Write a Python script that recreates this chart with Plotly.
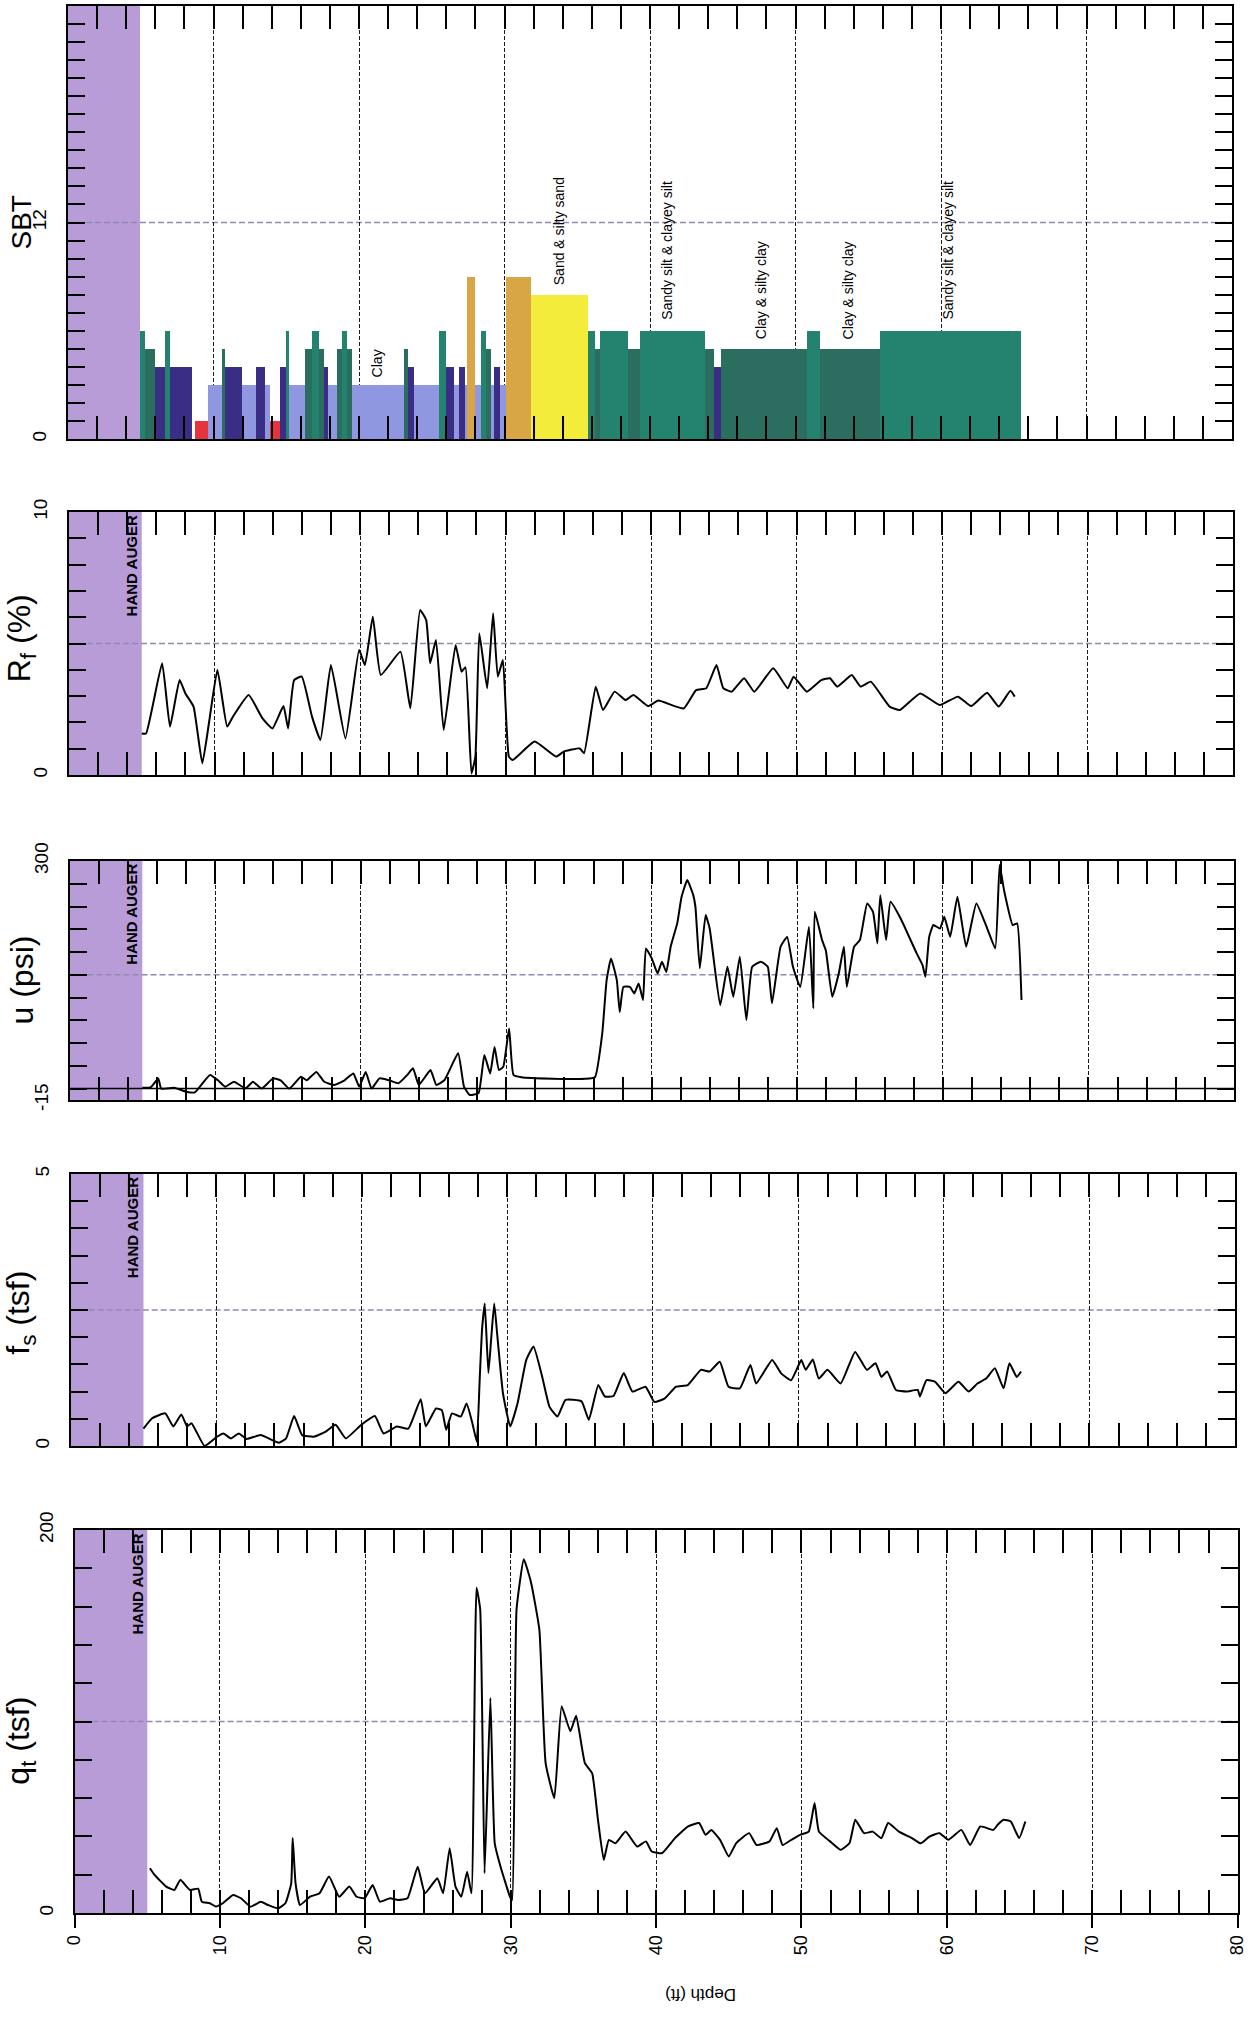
import plotly.graph_objects as go

# ---------------- DATA ----------------
# Soil behaviour type (SBT) intervals: depth from, depth to (ft), zone number
sbt_from = [4.95, 5.3, 6.0, 6.7, 7.0, 8.7, 9.65, 10.55, 10.8, 11.95, 12.9, 13.55, 13.9, 14.6, 14.95,
            15.2, 16.3, 16.8, 17.25, 17.6, 17.85, 18.5, 18.85, 19.2, 19.55, 23.1, 23.4, 23.8, 25.5,
            26.0, 26.5, 26.9, 27.3, 27.4, 28.0, 28.4, 28.7, 29.1, 29.3, 29.7, 30.1, 31.8, 35.75,
            36.2, 36.55, 38.5, 39.3, 43.8, 44.4, 44.9, 50.8, 51.7, 55.8]
sbt_to = [5.3, 6.0, 6.7, 7.0, 8.5, 9.65, 10.55, 10.8, 11.95, 12.9, 13.55, 13.9, 14.6, 14.95, 15.2,
          16.3, 16.8, 17.25, 17.6, 17.85, 18.5, 18.85, 19.2, 19.55, 23.1, 23.4, 23.8, 25.5, 26.0,
          26.5, 26.9, 27.3, 27.4, 28.0, 28.4, 28.7, 29.1, 29.3, 29.7, 30.1, 31.8, 35.75, 36.2,
          36.55, 38.5, 39.3, 43.8, 44.4, 44.9, 50.8, 51.7, 55.8, 65.5]
sbt_zone = [6, 5, 4, 6, 4, 1, 3, 5, 4, 3, 4, 3, 1, 4, 6,
            3, 5, 6, 5, 4, 3, 5, 6, 5, 3, 5, 4, 3, 6,
            4, 3, 4, 3, 9, 3, 6, 5, 3, 4, 3, 9, 8, 6,
            5, 6, 5, 6, 5, 4, 5, 6, 5, 6]

sbt_label_text = ["Clay", "Sand & silty sand", "Sandy silt & clayey silt", "Clay & silty clay",
                  "Clay & silty clay", "Sandy silt & clayey silt"]
sbt_label_depth = [21.3, 33.8, 41.2, 47.6, 53.6, 60.5]
sbt_label_base = [3.3, 8.4, 6.5, 5.4, 5.4, 6.5]

# Friction ratio Rf (%)
rf_depth = [5.0, 5.3, 6.4, 6.94, 7.6, 8.0, 8.56, 9.16, 9.65, 10.2,
            10.87, 11.27, 12.35, 13.3, 13.98, 14.74, 15.06, 15.47, 16.0, 16.7,
            17.28, 18.0, 19.0, 19.94, 20.34, 20.88, 21.43, 22.78, 23.46, 24.13,
            24.55, 24.82, 25.22, 25.75, 26.57, 26.98, 27.25, 27.66, 27.93, 28.2,
            28.74, 29.15, 29.47, 29.82, 30.23, 30.5, 32.0, 33.48, 34.0, 35.1,
            35.4, 36.2, 36.7, 37.5, 38.24, 38.8, 39.8, 40.5, 42.25, 43.1,
            43.8, 44.5, 44.97, 45.55, 46.4, 47.1, 48.4, 49.4, 49.8, 50.7,
            51.7, 52.3, 52.8, 53.8, 54.4, 55.1, 56.4, 57.1, 58.5, 59.85,
            61.1, 62.0, 63.1, 63.9, 64.7, 65.0]
rf_vals = [1.58, 1.58, 4.25, 1.84, 3.61, 3.1, 2.6, 0.44, 2.09, 4.0,
           1.84, 2.22, 3.04, 2.15, 1.77, 2.62, 1.77, 3.61, 3.74, 2.22,
           1.33, 4.18, 1.39, 4.75, 4.18, 6.02, 3.8, 4.69, 2.54, 6.27,
           5.89, 4.25, 5.13, 1.71, 4.94, 3.93, 4.1, 0.06, 0.7, 5.39,
           3.3, 6.15, 3.74, 4.37, 0.7, 0.57, 1.27, 0.7, 0.89, 1.01,
           0.83, 3.36, 2.47, 3.17, 2.85, 3.04, 2.62, 2.83, 2.53, 3.23,
           3.3, 4.18, 3.3, 3.17, 3.68, 3.17, 4.06, 3.3, 3.74, 3.17,
           3.61, 3.68, 3.36, 3.8, 3.36, 3.55, 2.6, 2.47, 3.1, 2.66,
           2.98, 2.62, 3.13, 2.6, 3.2, 2.98]

# Pore pressure u (psi)
u_depth = [5.0, 5.6, 6.1, 6.3, 7.2, 8.0, 8.6, 9.65, 10.2, 10.7,
           11.3, 12.1, 12.6, 13.2, 13.98, 14.5, 15.1, 15.9, 16.3, 16.96,
           17.5, 18.2, 18.9, 19.5, 19.9, 20.35, 20.75, 21.3, 21.95, 22.6,
           23.2, 23.6, 24.0, 24.8, 25.2, 25.75, 26.7, 27.1, 27.5, 28.1,
           28.5, 28.9, 29.2, 29.5, 29.8, 30.2, 30.5, 31.05, 33.2, 35.4,
           36.1, 36.6, 36.9, 37.2, 37.6, 37.8, 38.05, 38.5, 38.8, 39.1,
           39.4, 39.6, 40.0, 40.4, 40.7, 41.0, 41.3, 41.75, 42.05, 42.44,
           42.85, 43.0, 43.3, 43.7, 43.98, 44.7, 45.2, 45.6, 46.05, 46.5,
           46.9, 47.5, 47.97, 48.26, 48.85, 49.3, 49.7, 50.2, 50.8, 51.1,
           51.2, 51.7, 51.96, 52.4, 52.85, 53.2, 53.4, 53.9, 54.3, 54.8,
           55.2, 55.5, 55.7, 56.1, 56.4, 57.1, 58.2, 58.6, 58.8, 59.06,
           59.35, 59.8, 60.1, 60.5, 61.0, 61.6, 62.3, 63.05, 63.6, 63.9,
           64.2, 64.8, 65.1, 65.4]
u_vals = [1, 2, 13.5, 0, 1, -4, -5, 18, 11, 2.6,
          9, 0.4, 9, 0, 13.5, 11, 0, 15.7, 11, 22,
          9, 4.8, 11, 20, 2.6, 22, 0, 13.5, 11, 7,
          18, 26.7, 4.8, 24.5, 4.8, 11, 46.5, 2.6, -8.4, -6,
          44.3, 20, 55, 24.5, 28.9, 79.4, 18, 14.9, 13, 13,
          15, 72.8, 143, 171.6, 143, 101, 134, 134, 125.5, 138.7,
          116.8, 184.8, 171.6, 151.9, 167.3, 153.8, 187, 217.8, 252.9, 274.9,
          255, 239.7, 158.5, 228.7, 211, 110, 160.6, 121, 173.8, 90.4,
          160.6, 167.3, 160.6, 112.4, 187, 200, 160.6, 134, 213.4, 105.8,
          233, 195.8, 182, 121, 152, 187, 134, 187, 195.8, 244.1,
          233, 191.4, 255, 195.8, 246.3, 224.3, 178.2, 162.9, 147.5, 200,
          215.6, 211, 226.5, 200, 252.9, 187, 244.1, 211, 184.8, 294.6,
          261.7, 215.6, 217.8, 116.8]

# Sleeve friction fs (tsf)
fs_depth = [5.0, 5.6, 6.5, 7.05, 7.6, 8.0, 8.3, 9.2, 10.05, 10.5,
            11.0, 11.55, 12.1, 13.05, 14.3, 14.8, 15.35, 15.9, 16.7, 17.5,
            18.2, 18.9, 19.97, 20.9, 21.5, 22.4, 23.2, 24.05, 24.4, 25.1,
            25.5, 25.8, 26.2, 26.8, 27.2, 27.6, 27.9, 28.1, 28.26, 28.45,
            28.7, 28.9, 29.1, 29.3, 29.7, 30.2, 30.7, 31.3, 31.8, 32.4,
            32.9, 33.45, 34.0, 35.1, 35.6, 36.25, 36.7, 37.3, 38.0, 38.6,
            39.5, 40.1, 40.8, 41.6, 42.4, 43.3, 43.9, 44.6, 45.2, 45.98,
            46.7, 47.1, 48.2, 48.8, 49.5, 50.2, 50.5, 50.99, 51.4, 52.0,
            52.9, 53.9, 54.7, 55.3, 55.7, 56.1, 56.7, 57.4, 58.2, 58.35,
            58.8, 59.4, 60.1, 61.0, 61.7, 62.3, 62.9, 63.5, 64.1, 64.5,
            65.0, 65.3]
fs_vals = [0.32, 0.51, 0.6, 0.36, 0.58, 0.36, 0.42, 0.0, 0.17, 0.23,
           0.14, 0.23, 0.13, 0.2, 0.06, 0.14, 0.55, 0.2, 0.17, 0.26,
           0.39, 0.14, 0.39, 0.55, 0.23, 0.36, 0.32, 0.86, 0.36, 0.69,
           0.66, 0.3, 0.6, 0.54, 0.78, 0.42, 0.08, 1.21, 2.13, 2.62,
           1.34, 2.0, 2.62, 2.07, 0.97, 0.36, 0.78, 1.58, 1.83, 1.27,
           0.72, 0.54, 0.85, 0.82, 0.48, 1.12, 0.91, 0.92, 1.34, 1.0,
           1.09, 0.81, 0.87, 1.09, 1.12, 1.4, 1.37, 1.55, 1.09, 1.06,
           1.49, 1.15, 1.58, 1.34, 1.21, 1.58, 1.4, 1.59, 1.24, 1.4,
           1.15, 1.73, 1.4, 1.52, 1.27, 1.37, 1.03, 1.0, 1.03, 0.91,
           1.21, 1.18, 0.97, 1.18, 1.0, 1.15, 1.24, 1.43, 1.06, 1.52,
           1.27, 1.37]

# Corrected tip resistance qt (tsf)
qt_depth = [5.18, 5.5, 6.3, 6.86, 7.27, 7.94, 8.5, 8.75, 9.3, 9.7,
            10.2, 10.9, 11.45, 12.1, 12.8, 13.3, 14.0, 14.5, 14.9, 15.0,
            15.2, 15.5, 16.2, 16.85, 17.5, 18.2, 18.9, 19.4, 19.95, 20.5,
            21.0, 21.7, 22.25, 22.9, 23.6, 24.1, 24.95, 25.35, 25.8, 26.2,
            26.6, 27.0, 27.3, 27.65, 27.9, 28.2, 28.6, 28.9, 29.3, 29.95,
            30.1, 30.4, 30.9, 31.4, 31.97, 32.4, 33.0, 33.5, 34.1, 34.5,
            35.1, 35.6, 36.0, 36.4, 36.75, 37.2, 37.9, 38.7, 39.3, 39.7,
            40.4, 41.3, 42.2, 42.96, 43.4, 43.8, 44.4, 45.0, 45.5, 46.4,
            46.9, 47.8, 48.3, 48.7, 49.3, 49.9, 50.5, 50.9, 51.2, 51.97,
            52.7, 53.3, 53.7, 54.3, 54.9, 55.5, 55.96, 56.7, 57.6, 58.2,
            58.8, 59.5, 60.1, 61.0, 61.6, 62.3, 63.2, 63.5, 63.9, 64.4,
            64.97, 65.4]
qt_vals = [23.4, 19.9, 13.8, 12, 17.3, 12, 12.7, 5.9, 5.1, 3.4,
           5.1, 9.4, 7.7, 3.3, 5.9, 4.2, 2.4, 5.1, 15.5, 39.1,
           15.5, 4.2, 8.5, 10.3, 19, 8.5, 13.8, 8.5, 7.7, 14.6,
           5.9, 7.7, 6.8, 7.7, 24.2, 10.3, 18.1, 10.3, 33.8, 13.8,
           8.5, 21.6, 10.3, 169.8, 158.5, 20.7, 112.3, 36.4, 24.2, 8.5,
           6.8, 158.5, 184.7, 172.5, 148, 78.3, 60, 108, 94.9, 103,
           78.3, 73, 48.7, 27.7, 38.2, 36.4, 42.5, 34.7, 37.4, 32.1,
           31.2, 39.1, 45.2, 47, 40.8, 43.4, 38.2, 29.5, 36.4, 41.7,
           35.5, 37.4, 44.3, 35.5, 38.2, 40.8, 42.5, 57.4, 42.5, 37.4,
           33, 36.4, 48.7, 41.7, 42.5, 39.1, 47, 42.5, 39.1, 36.4,
           39.9, 41.7, 38.2, 43.4, 35.5, 45.2, 43.4, 46.1, 48.7, 47.8,
           39.1, 47.8]

depth_ticks = [0, 10, 20, 30, 40, 50, 60, 70, 80]
hand_auger_depth = 5.0

# ---------------- STYLE ----------------
W, H = 1255, 2019
FONT = "Liberation Sans, Arial, sans-serif"
zone_colors = {1: "#e6343c", 3: "#8e97df", 4: "#3a2d86", 5: "#2b6d5f",
               6: "#23836f", 8: "#f3ec3a", 9: "#d9a646"}
AUGER = "#b89cd8"
MID = "#9586b5"

# panel geometry in pixels: top, bottom, left, right
geom = [(6, 439, 68, 1232),
        (512, 775, 69, 1233),
        (861, 1100, 69.5, 1234),
        (1174, 1446, 70.7, 1235),
        (1530, 1913, 74.6, 1237.6)]

panels = [
    dict(title="SBT", rng=[0, 24], tv=[0, 12], tt=["0", "12"], minor=1, mtick0=0, mid=12, tpos=0.5, tsize=28),
    dict(title="R<sub>f</sub> (%)", rng=[0, 10], tv=[0, 10], tt=["0", "10"], minor=1, mtick0=0, mid=5, tpos=0.52, tsize=32),
    dict(title="u (psi)", rng=[-15, 300], tv=[-15, 300], tt=["-15", "300"], minor=30, mtick0=0, mid=150, tpos=0.5, tsize=32),
    dict(title="f<sub>s</sub> (tsf)", rng=[0, 5], tv=[0, 5], tt=["0", "5"], minor=0.5, mtick0=0, mid=2.5, tpos=0.49, tsize=32),
    dict(title="q<sub>t</sub> (tsf)", rng=[0, 200], tv=[0, 200], tt=["0", "200"], minor=20, mtick0=0, mid=100, tpos=0.45, tsize=32),
]

fig = go.Figure()

# SBT bars
centers = [(a + b) / 2 for a, b in zip(sbt_from, sbt_to)]
widths = [b - a for a, b in zip(sbt_from, sbt_to)]
fig.add_trace(go.Bar(x=centers, y=sbt_zone, width=widths,
                     marker=dict(color=[zone_colors[z] for z in sbt_zone], line=dict(width=0)),
                     xaxis="x", yaxis="y", showlegend=False, hoverinfo="skip"))

series = [(rf_depth, rf_vals), (u_depth, u_vals), (fs_depth, fs_vals), (qt_depth, qt_vals)]
for i, (dx, dy) in enumerate(series, start=2):
    fig.add_trace(go.Scatter(x=dx, y=dy, mode="lines",
                             line=dict(color="black", width=2, shape="spline", smoothing=0.4),
                             xaxis=f"x{i}", yaxis=f"y{i}", showlegend=False, hoverinfo="skip"))

# helper invisible trace for depth-label axis
fig.add_trace(go.Scatter(x=qt_depth, y=qt_vals, mode="lines", opacity=0, line=dict(width=0),
                         xaxis="x6", yaxis="y5", showlegend=False, hoverinfo="skip"))

layout = dict(width=W, height=H, margin=dict(l=0, r=0, t=0, b=0), autosize=False,
              paper_bgcolor="white", plot_bgcolor="white", showlegend=False, bargap=0,
              font=dict(family=FONT, color="black"))

shapes = []
annotations = []
for k, (p, g) in enumerate(zip(panels, geom), start=1):
    top, bot, left, right = g
    sx = "" if k == 1 else str(k)
    layout[f"xaxis{sx}"] = dict(
        domain=[left / W, right / W], anchor=f"y{sx}", range=[0, 80],
        showline=True, linecolor="black", linewidth=2, mirror="ticks",
        ticks="inside", ticklen=23, tickwidth=2, tickcolor="black", dtick=10, tick0=0,
        minor=dict(dtick=2, tick0=0, ticks="inside", ticklen=23, tickwidth=2, tickcolor="black", showgrid=False),
        showgrid=True, gridcolor="#1a1a1a", gridwidth=1, griddash="4px,2px",
        showticklabels=False, zeroline=False, automargin=False, fixedrange=True)
    layout[f"yaxis{sx}"] = dict(
        domain=[1 - bot / H, 1 - top / H], anchor=f"x{sx}", range=p["rng"],
        showline=True, linecolor="black", linewidth=2, mirror="ticks",
        tickmode="array", tickvals=p["tv"], ticktext=p["tt"],
        ticks="inside", ticklen=17, tickwidth=2, tickcolor="black",
        minor=dict(dtick=p["minor"], tick0=p["mtick0"], ticks="inside", ticklen=17, tickwidth=2,
                   tickcolor="black", showgrid=False),
        tickangle=-90, tickfont=dict(size=19, family=FONT), ticklabelstandoff=12,
        showgrid=False, zeroline=False, automargin=False, fixedrange=True)

    # hand auger band
    shapes.append(dict(type="rect", xref=f"x{sx}", yref=f"y{sx} domain",
                       x0=0, x1=hand_auger_depth if k > 1 else 4.95, y0=0, y1=1,
                       fillcolor=AUGER, line=dict(width=0), layer="below"))
    # mid reference line
    shapes.append(dict(type="line", xref=f"x{sx} domain", yref=f"y{sx}", x0=0, x1=1,
                       y0=p["mid"], y1=p["mid"], line=dict(color=MID, width=1.5, dash="6px,3px"),
                       layer="below"))
    # panel title
    annotations.append(dict(text=p["title"], xref="paper", yref=f"y{sx} domain",
                            x=21 / W, y=p["tpos"], xanchor="center", yanchor="middle",
                            textangle=-90, showarrow=False, font=dict(size=p["tsize"], family=FONT)))
    if k > 1:
        annotations.append(dict(text="<b>HAND AUGER</b>", xref=f"x{sx}", yref=f"y{sx} domain",
                                x=4.3, y=0.995, xanchor="center", yanchor="top", textangle=-90,
                                showarrow=False, font=dict(size=15, family=FONT)))

# zero line in u panel
shapes.append(dict(type="line", xref="x3 domain", yref="y3", x0=0, x1=1, y0=0, y1=0,
                   line=dict(color="black", width=1.5), layer="below"))

# depth label axis
layout["xaxis6"] = dict(overlaying="x5", anchor="y5", side="bottom", range=[0, 80],
                        tickmode="array", tickvals=depth_ticks, ticktext=[str(v) for v in depth_ticks],
                        ticks="outside", ticklen=14, tickwidth=2, tickcolor="black",
                        showline=False, showgrid=False, zeroline=False, tickangle=-90,
                        tickfont=dict(size=18, family=FONT), automargin=False, fixedrange=True)

# SBT labels
for txt, d, b in zip(sbt_label_text, sbt_label_depth, sbt_label_base):
    annotations.append(dict(text=txt, xref="x", yref="y", x=d, y=b, xanchor="center",
                            yanchor="bottom", textangle=-90, showarrow=False,
                            font=dict(size=14, family=FONT)))

annotations.append(dict(text="Depth (ft)", xref="paper", yref="paper", x=701 / W, y=1 - 1995 / H,
                        xanchor="center", yanchor="middle", textangle=180, showarrow=False,
                        font=dict(size=17, family=FONT)))

layout["shapes"] = shapes
layout["annotations"] = annotations
fig.update_layout(**layout)

fig.write_html("out.html")
